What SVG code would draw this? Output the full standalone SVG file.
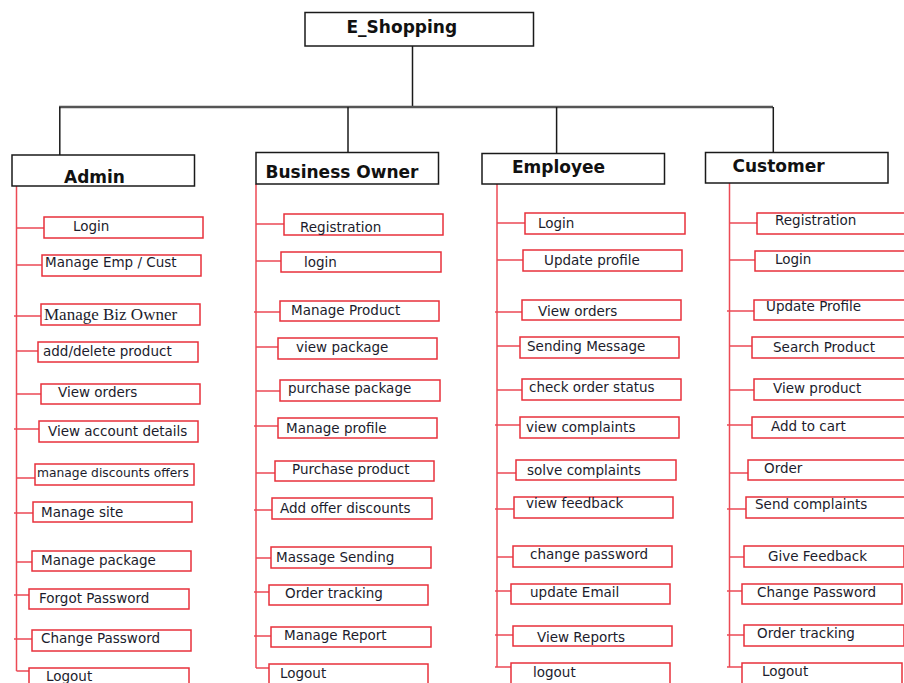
<svg xmlns="http://www.w3.org/2000/svg" width="904" height="683" viewBox="0 0 904 683">
<style>
.bg{fill:#ffffff}
.hb{fill:#ffffff;stroke:#1a1a1a;stroke-width:1.5}
.ht{font-family:"DejaVu Sans",sans-serif;font-weight:bold;font-size:17px;fill:#111111}
.ib{fill:#ffffff;stroke:#e8313b;stroke-width:1.5}
.it{font-family:"DejaVu Sans",sans-serif;font-size:13.5px;fill:#1c1c2c}
.sm{font-size:12.3px}
.sf{font-family:"Liberation Serif",serif;font-size:17px}
.bl{stroke:#1a1a1a;stroke-width:1.5;fill:none}
.tr{stroke:#555555;stroke-width:2.5;fill:none}
.rl{stroke:#ec4a55;stroke-width:1.5;fill:none}
</style>
<rect class="bg" x="0" y="0" width="904" height="683"/>
<g id="connectors">
<line class="bl" x1="412.5" y1="46" x2="412.5" y2="107"/>
<line class="tr" x1="59" y1="107" x2="773" y2="107"/>
<line class="bl" x1="59.8" y1="107" x2="59.8" y2="155"/>
<line class="bl" x1="348" y1="107" x2="348" y2="152.5"/>
<line class="bl" x1="556.6" y1="107" x2="556.6" y2="153.5"/>
<line class="bl" x1="773.3" y1="107" x2="773.3" y2="152.5"/>
<line class="rl" x1="16.5" y1="186" x2="16.5" y2="671"/>
<line class="rl" x1="256" y1="184" x2="256" y2="668"/>
<line class="rl" x1="497" y1="184" x2="497" y2="667"/>
<line class="rl" x1="729.5" y1="183" x2="729.5" y2="667"/>
<path class="rl" d="M16.5 228H44M16.5 265H42M14 316H41M16.5 351H38M16.5 394H41M14 429H39M16.5 478H35M14 513H33M16.5 562H32M14 595H29M14 639H32M16.5 671H29"/>
<path class="rl" d="M256 224H284M256 261H281M254 312H280M256 347H278M256 391H280M254 426H278M256 473H275M254 510H272M256 558H271M254 592H269M254 636H271M256 668H269"/>
<path class="rl" d="M497 223H525M497 260H523M495 312H522M497 346H520M497 390H522M495 425H520M497 473H516M495 509H514M497 557H513M495 591H511M495 635H513M495 667H511"/>
<path class="rl" d="M729.5 223H757M729.5 260H755M727 311H754M729.5 346H752M729.5 390H754M727 425H752M729.5 473H748M727 509H746M729.5 557H744M727 591H742M727 635H744M727 667H742"/>
</g>
<g id="root"><rect class="hb" x="305" y="12.5" width="228.5" height="33.5"/><text class="ht" x="346.5" y="33">E_Shopping</text></g>
<g id="admin"><rect class="hb" x="12" y="155" width="182.5" height="31"/><text class="ht" x="64" y="183">Admin</text></g>
<g id="business-owner"><rect class="hb" x="256" y="152.5" width="182.5" height="31.5"/><text class="ht" x="265.5" y="177.5">Business Owner</text></g>
<g id="employee"><rect class="hb" x="482" y="153.5" width="182.5" height="30.5"/><text class="ht" x="512" y="172.5">Employee</text></g>
<g id="customer"><rect class="hb" x="705.5" y="152.5" width="182.5" height="30.5"/><text class="ht" x="732.5" y="172">Customer</text></g>

<g id="a1"><rect class="ib" x="44" y="217" width="159" height="21"/><text class="it" x="73" y="231">Login</text></g>
<g id="a2"><rect class="ib" x="42" y="255" width="159" height="21"/><text class="it" x="45" y="267">Manage Emp / Cust</text></g>
<g id="a3"><rect class="ib" x="41" y="304" width="159" height="21"/><text class="it sf" x="44" y="320">Manage Biz Owner</text></g>
<g id="a4"><rect class="ib" x="38" y="342" width="160" height="20"/><text class="it" x="43" y="356">add/delete product</text></g>
<g id="a5"><rect class="ib" x="41" y="384" width="159" height="20"/><text class="it" x="58" y="397">View orders</text></g>
<g id="a6"><rect class="ib" x="39" y="421" width="159" height="21"/><text class="it" x="48" y="436">View account details</text></g>
<g id="a7"><rect class="ib" x="35" y="464" width="159" height="21"/><text class="it sm" x="37" y="477">manage discounts offers</text></g>
<g id="a8"><rect class="ib" x="33" y="502" width="159" height="20"/><text class="it" x="41" y="517">Manage site</text></g>
<g id="a9"><rect class="ib" x="32" y="551" width="159" height="20"/><text class="it" x="41" y="565">Manage package</text></g>
<g id="a10"><rect class="ib" x="29" y="589" width="160" height="20"/><text class="it" x="39" y="603">Forgot Password</text></g>
<g id="a11"><rect class="ib" x="32" y="630" width="159" height="21"/><text class="it" x="41" y="643">Change Password</text></g>
<g id="a12"><rect class="ib" x="29" y="668" width="160" height="25"/><text class="it" x="46" y="681">Logout</text></g>

<g id="b1"><rect class="ib" x="284" y="214" width="159" height="21"/><text class="it" x="300" y="232">Registration</text></g>
<g id="b2"><rect class="ib" x="281" y="252" width="160" height="20"/><text class="it" x="304" y="267">login</text></g>
<g id="b3"><rect class="ib" x="280" y="301" width="159" height="20"/><text class="it" x="291" y="315">Manage Product</text></g>
<g id="b4"><rect class="ib" x="278" y="338" width="159" height="21"/><text class="it" x="296" y="352">view package</text></g>
<g id="b5"><rect class="ib" x="280" y="380" width="160" height="21"/><text class="it" x="288" y="393">purchase package</text></g>
<g id="b6"><rect class="ib" x="278" y="418" width="159" height="20"/><text class="it" x="286" y="433">Manage profile</text></g>
<g id="b7"><rect class="ib" x="275" y="461" width="159" height="20"/><text class="it" x="292" y="474">Purchase product</text></g>
<g id="b8"><rect class="ib" x="272" y="498" width="160" height="21"/><text class="it" x="280" y="513">Add offer discounts</text></g>
<g id="b9"><rect class="ib" x="271" y="547" width="160" height="21"/><text class="it" x="276" y="562">Massage Sending</text></g>
<g id="b10"><rect class="ib" x="269" y="585" width="159" height="20"/><text class="it" x="285" y="598">Order tracking</text></g>
<g id="b11"><rect class="ib" x="271" y="627" width="160" height="20"/><text class="it" x="284" y="640">Manage Report</text></g>
<g id="b12"><rect class="ib" x="269" y="664" width="159" height="25"/><text class="it" x="280" y="678">Logout</text></g>

<g id="e1"><rect class="ib" x="525" y="213" width="160" height="21"/><text class="it" x="538" y="228">Login</text></g>
<g id="e2"><rect class="ib" x="523" y="250" width="159" height="21"/><text class="it" x="544" y="265">Update profile</text></g>
<g id="e3"><rect class="ib" x="522" y="300" width="159" height="20"/><text class="it" x="538" y="316">View orders</text></g>
<g id="e4"><rect class="ib" x="520" y="337" width="159" height="21"/><text class="it" x="527" y="351">Sending Message</text></g>
<g id="e5"><rect class="ib" x="522" y="379" width="159" height="21"/><text class="it" x="529" y="392">check order status</text></g>
<g id="e6"><rect class="ib" x="520" y="417" width="159" height="21"/><text class="it" x="526" y="432">view complaints</text></g>
<g id="e7"><rect class="ib" x="516" y="460" width="160" height="20"/><text class="it" x="527" y="475">solve complaints</text></g>
<g id="e8"><rect class="ib" x="514" y="497" width="159" height="21"/><text class="it" x="526" y="508">view feedback</text></g>
<g id="e9"><rect class="ib" x="513" y="546" width="159" height="21"/><text class="it" x="530" y="559">change password</text></g>
<g id="e10"><rect class="ib" x="511" y="584" width="159" height="20"/><text class="it" x="530" y="597">update Email</text></g>
<g id="e11"><rect class="ib" x="513" y="626" width="159" height="20"/><text class="it" x="537" y="642">View Reports</text></g>
<g id="e12"><rect class="ib" x="511" y="663" width="159" height="25"/><text class="it" x="533" y="677">logout</text></g>

<g id="c1"><rect class="ib" x="757" y="213" width="160" height="21"/><text class="it" x="775" y="225">Registration</text></g>
<g id="c2"><rect class="ib" x="755" y="251" width="160" height="20"/><text class="it" x="775" y="264">Login</text></g>
<g id="c3"><rect class="ib" x="754" y="300" width="160" height="20"/><text class="it" x="766" y="311">Update Profile</text></g>
<g id="c4"><rect class="ib" x="752" y="337" width="160" height="21"/><text class="it" x="773" y="352">Search Product</text></g>
<g id="c5"><rect class="ib" x="754" y="379" width="160" height="21"/><text class="it" x="773" y="393">View product</text></g>
<g id="c6"><rect class="ib" x="752" y="417" width="160" height="21"/><text class="it" x="771" y="431">Add to cart</text></g>
<g id="c7"><rect class="ib" x="748" y="460" width="160" height="20"/><text class="it" x="764" y="473">Order</text></g>
<g id="c8"><rect class="ib" x="746" y="497" width="160" height="21"/><text class="it" x="755" y="509">Send complaints</text></g>
<g id="c9"><rect class="ib" x="744" y="546" width="160" height="21"/><text class="it" x="768" y="561">Give Feedback</text></g>
<g id="c10"><rect class="ib" x="742" y="584" width="160" height="20"/><text class="it" x="757" y="597">Change Password</text></g>
<g id="c11"><rect class="ib" x="744" y="625" width="160" height="21"/><text class="it" x="757" y="638">Order tracking</text></g>
<g id="c12"><rect class="ib" x="742" y="663" width="160" height="25"/><text class="it" x="762" y="676">Logout</text></g>
</svg>
